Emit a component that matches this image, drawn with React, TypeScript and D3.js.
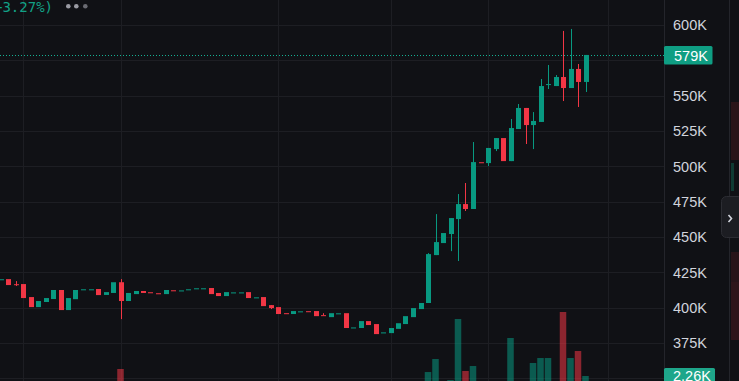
import React from "react";
import * as d3 from "d3";

const opens = [420.0,420.2,416.6,416.7,407.5,400.4,404.0,406.1,412.5,398.3,406.0,412.9,412.9,413.2,409.0,410.4,418.0,404.7,409.6,411.8,410.9,410.2,409.6,412.3,412.1,412.9,413.6,413.6,413.9,410.4,408.2,410.7,410.7,411.0,407.2,407.5,401.8,400.4,396.1,395.5,397.3,397.5,397.6,394.7,393.3,395.9,396.1,385.9,385.6,390.5,388.4,382.4,382.0,385.0,388.4,393.3,399.0,403.3,437.2,445.7,452.1,462.7,473.3,469.8,502.9,502.3,512.2,520.0,503.7,526.4,541.3,529.2,531.4,557.5,556.8,563.2,555.4,568.9,559.7];
const closes = [420.1,416.0,416.4,406.8,400.4,404.7,406.8,412.5,398.3,406.8,412.5,413.0,413.0,408.9,411.0,418.0,404.7,410.4,411.8,410.4,410.7,410.0,412.5,412.1,412.2,413.0,413.7,413.7,409.6,408.2,411.0,410.8,410.8,406.8,407.3,401.1,399.7,395.5,395.9,397.6,397.4,397.3,394.0,394.5,396.1,396.0,385.6,386.0,390.5,387.7,381.3,382.5,385.6,389.0,394.0,399.7,403.3,437.9,446.4,452.8,463.4,473.3,469.8,503.0,502.7,513.0,520.0,503.7,527.1,541.3,529.2,532.1,556.8,558.2,563.2,555.4,568.9,559.7,578.8];
// explicit wick extremes (null = body only)
const highs: (number | null)[] = [null,null,418.8,null,null,null,null,null,null,null,null,null,null,null,null,null,420.2,null,null,null,null,null,null,null,null,null,null,null,null,null,null,null,null,null,null,null,null,null,null,null,null,null,null,396.1,null,null,null,null,null,null,null,null,null,null,null,null,null,438.6,466.2,null,null,480.4,488.2,517.2,null,null,null,null,533.5,544.1,null,538.4,561.8,571.7,564.6,595.8,597.2,572.4,null];
const lows: (number | null)[] = [null,null,415.3,null,null,null,null,null,null,null,null,null,null,null,null,null,391.9,null,null,null,null,null,null,null,null,null,null,null,null,null,null,null,null,null,null,null,399.0,null,null,null,null,null,null,null,null,null,null,null,null,null,null,null,null,null,null,null,null,null,null,null,440.0,433.0,468.4,null,null,500.2,510.8,null,null,null,515.8,512.2,null,554.7,null,546.2,null,542.0,552.6];
const volumes = [0.8,0.9,0.6,1.1,1.0,0.7,0.6,0.8,1.2,0.9,0.8,0.4,0.4,0.6,0.5,0.9,3.25,0.8,0.5,0.4,0.3,0.3,0.5,0.3,0.3,0.3,0.3,0.3,0.6,0.5,0.5,0.3,0.3,0.6,0.3,0.8,0.5,0.7,0.3,0.4,0.3,0.3,0.5,0.3,0.5,0.3,1.2,0.4,0.7,0.6,1.0,0.4,0.6,0.8,1.0,1.1,0.9,2.82,4.66,1.3,1.69,10.31,2.97,3.67,0.5,1.3,1.2,1.4,7.63,1.3,1.4,4.10,4.80,4.80,1.2,11.30,4.80,5.79,2.26];

const priceTicks = [350, 375, 400, 425, 450, 475, 500, 525, 550, 575, 600];
const gridIdx = [3, 16, 37, 52, 65, 81];
const lastPrice = 579;
const lastPriceLabel = "579K";
const lastVolLabel = "2.26K";
const headerText = "+3.27%)";

const W = 739, H = 381;
const PLOT_R = 664;
const BG = "#101115";
const GRID = "#1d1e23";
const UP = "#089981";
const DOWN = "#f23645";
const AXIS_TXT = "#d1d4dc";
const FONT = "'Liberation Sans', Arial, sans-serif";

export default function App() {
  const x = d3.scaleLinear().domain([0, 78]).range([0.5, 585.5]);
  const y = d3.scaleLinear().domain([375, 600]).range([343, 25]);
  const yv = d3.scaleLinear().domain([0, 10]).range([392, 321.2]);
  const bw = 5, vw = 6.5;
  const lastY = y(lastPrice);
  const visibleTicks = priceTicks.filter((t) => Math.abs(y(t) - lastY) > 15 && y(t) < 360);

  return (
    <svg width={W} height={H} style={{ position: "fixed", left: 0, top: 0, display: "block" }}>
      <rect x={0} y={0} width={W} height={H} fill={BG} />
      <defs>
        <clipPath id="plot"><rect x={0} y={0} width={PLOT_R} height={H} /></clipPath>
      </defs>
      <g clipPath="url(#plot)">
        {priceTicks.map((t) => (
          <line key={"h" + t} x1={0} x2={PLOT_R} y1={Math.round(y(t)) + 0.5} y2={Math.round(y(t)) + 0.5} stroke={GRID} />
        ))}
        {gridIdx.map((g) => (
          <line key={"v" + g} x1={Math.round(x(g)) + 0.5} x2={Math.round(x(g)) + 0.5} y1={0} y2={H} stroke={GRID} />
        ))}
        {volumes.map((v, i) => {
          const up = closes[i] >= opens[i];
          return (
            <rect key={"vol" + i} x={x(i) - vw / 2} y={yv(v)} width={vw} height={yv(0) - yv(v)}
              fill={up ? UP : DOWN} opacity={0.55} />
          );
        })}
        <line x1={0} x2={PLOT_R} y1={Math.round(lastY) + 0.5} y2={Math.round(lastY) + 0.5}
          stroke="#14b092" strokeDasharray="1,2" />
        {opens.map((o, i) => {
          const c = closes[i];
          const up = c >= o;
          const col = up ? UP : DOWN;
          const top = Math.max(o, c), bot = Math.min(o, c);
          const hi = highs[i] ?? top, lo = lows[i] ?? bot;
          const yTop = y(top), yBot = y(bot);
          const hgt = Math.max(1, yBot - yTop);
          return (
            <g key={"c" + i}>
              {(hi > top || lo < bot) && (
                <line x1={Math.round(x(i)) + 0.5} x2={Math.round(x(i)) + 0.5} y1={y(hi)} y2={y(lo)} stroke={col} strokeWidth={1} />
              )}
              <rect x={Math.round(x(i)) + 0.5 - bw / 2} y={yTop} width={bw} height={hgt} fill={col} />
            </g>
          );
        })}
        <text x={53} y={12} textAnchor="end" fill="#12a186" fontFamily="'DejaVu Sans Mono', monospace" fontSize={14}>{headerText}</text>
        <circle cx={68.3} cy={6.3} r={2.3} fill="#9a9ba3" />
        <circle cx={76.3} cy={6.3} r={2.3} fill="#9a9ba3" />
        <circle cx={85.3} cy={6.3} r={2.3} fill="#6a6b72" />
      </g>
      {/* axis separators */}
      <line x1={PLOT_R + 0.5} x2={PLOT_R + 0.5} y1={0} y2={H} stroke="#24252b" />
      <line x1={729.5} x2={729.5} y1={0} y2={H} stroke="#24252b" />
      {/* faint right panel */}
      <rect x={731} y={102} width={8} height={58} fill="#2a1519" />
      <rect x={731} y={163} width={3} height={28} fill="#0f3b33" />
      <rect x={731} y={252} width={8} height={30} fill="#271419" />
      <rect x={731} y={282} width={8} height={58} fill="#2e151a" />
      {/* price axis labels */}
      {visibleTicks.map((t) => (
        <text key={"t" + t} x={673} y={y(t)} dy="0.36em" fill={AXIS_TXT} fontFamily={FONT} fontSize={14.5}>{`${t}K`}</text>
      ))}
      <rect x={664} y={46} width={48.5} height={18.5} rx={1.5} fill="#0f9e83" />
      <text x={674} y={55.3} dy="0.36em" fill="#ffffff" fontFamily={FONT} fontSize={14.5}>{lastPriceLabel}</text>
      <rect x={664} y={368} width={51} height={18} rx={1.5} fill="#1ea68a" />
      <text x={673} y={376} dy="0.36em" fill="#ffffff" fontFamily={FONT} fontSize={14.5}>{lastVolLabel}</text>
      {/* expand button */}
      <rect x={721.5} y={196.5} width={22} height={41} rx={5} fill="#1c1d22" stroke="#2c2d33" />
      <path d="M728.5 215 L731.5 218.5 L728.5 222" fill="none" stroke="#d1d4dc" strokeWidth={1.6} />
    </svg>
  );
}
